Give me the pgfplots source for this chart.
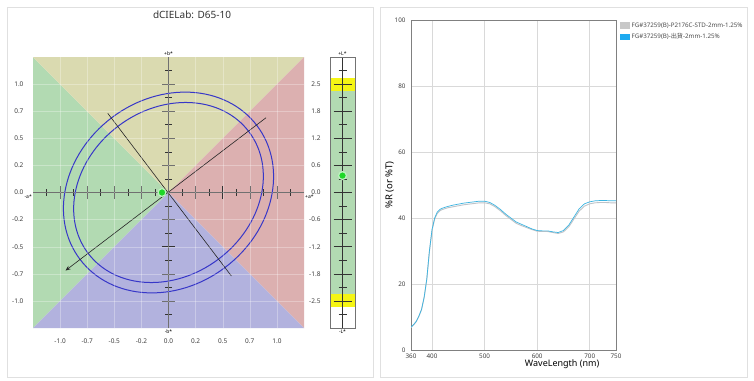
\documentclass[border=0pt]{standalone}
\usepackage{pgfplots}
\pgfplotsset{compat=1.18}
\usetikzlibrary{arrows.meta}
\usepackage{fontspec}
\setmainfont{Noto Sans}
\newfontfamily\cjk{Noto Sans CJK TC}
\definecolor{tgreen}{RGB}{178,218,178}
\definecolor{tyellow}{RGB}{218,218,176}
\definecolor{tred}{RGB}{220,176,176}
\definecolor{tblue}{RGB}{178,178,222}
\definecolor{ecol}{RGB}{55,55,200}
\definecolor{dotg}{RGB}{30,215,40}
\definecolor{lyel}{RGB}{245,245,20}
\definecolor{sblue}{RGB}{60,180,225}
\definecolor{sgray}{RGB}{190,195,200}
\definecolor{lgblue}{RGB}{30,170,240}
\definecolor{lggray}{RGB}{200,200,200}
\begin{document}
\begin{tikzpicture}
\path[use as bounding box, fill=white] (0,0) rectangle (754pt,-380pt);
\draw[black!12] (7pt,-7pt) rectangle (373pt,-377pt);
\draw[black!12] (380pt,-7pt) rectangle (747pt,-377pt);
\node[font=\fontsize{10}{12}\selectfont, text=black!80] at (192pt,-15pt) {dCIELab: D65-10};

% ---------- a*b* plane ----------
\begin{axis}[at={(33pt,-57pt)}, anchor=north west, scale only axis,
  width=271pt, height=271pt,
  xmin=-1.25, xmax=1.25, ymin=-1.25, ymax=1.25,
  axis line style={draw=none}, major tick length=0pt,
  xtick={-1,-0.75,-0.5,-0.25,0,0.25,0.5,0.75,1},
  ytick={-1,-0.75,-0.5,-0.25,0,0.25,0.5,0.75,1},
  xticklabels={-1.0,-0.7,-0.5,-0.2,\textbf{0.0},0.2,0.5,0.7,1.0},
  yticklabels={-1.0,-0.7,-0.5,-0.2,\textbf{0.0},0.2,0.5,0.7,1.0},
  ticklabel style={font=\fontsize{6.5}{7}\selectfont, text=black!75},
  xticklabel style={yshift=-7pt}, yticklabel style={xshift=-6pt},
  grid=major, major grid style={white, opacity=0.3, line width=0.4pt},
  axis on top, clip=false]
\addplot[fill=tgreen, draw=none] coordinates {(0,0) (-1.25,1.25) (-1.25,-1.25)} -- cycle;
\addplot[fill=tyellow, draw=none] coordinates {(0,0) (-1.25,1.25) (1.25,1.25)} -- cycle;
\addplot[fill=tred, draw=none] coordinates {(0,0) (1.25,1.25) (1.25,-1.25)} -- cycle;
\addplot[fill=tblue, draw=none] coordinates {(0,0) (1.25,-1.25) (-1.25,-1.25)} -- cycle;
\draw[black!80, line width=0.6pt] (axis cs:-1.25,0) -- (axis cs:1.25,0);
\draw[black!80, line width=0.6pt] (axis cs:0,-1.25) -- (axis cs:0,1.25);
\pgfplotsinvokeforeach{-1,-0.75,-0.5,-0.25,0.25,0.5,0.75,1}{
  \draw[black!80, line width=0.6pt] (axis cs:#1,-0.06) -- (axis cs:#1,0.06);
  \draw[black!80, line width=0.6pt] (axis cs:-0.06,#1) -- (axis cs:0.06,#1);
}
\pgfplotsinvokeforeach{-1.125,-0.875,-0.625,-0.375,-0.125,0.125,0.375,0.625,0.875,1.125}{
  \draw[black!80, line width=0.6pt] (axis cs:#1,-0.032) -- (axis cs:#1,0.032);
  \draw[black!80, line width=0.6pt] (axis cs:-0.032,#1) -- (axis cs:0.032,#1);
}
\draw[ecol, line width=1pt, rotate around={37:(axis cs:0,0)}] (axis cs:0,0) ellipse [x radius=110.9pt, y radius=93.9pt];
\draw[ecol, line width=1pt, rotate around={37:(axis cs:0,0)}] (axis cs:0,0) ellipse [x radius=100.8pt, y radius=83.3pt];
\addplot[black!85, line width=0.6pt] coordinates {(-0.56,0.73) (0.58,-0.77)};
\addplot[black!85, line width=0.6pt, -{Stealth[length=5pt,width=4pt]}] coordinates {(0.9,0.69) (-0.95,-0.72)};
\addplot[only marks, mark=*, mark size=3.9pt, mark options={fill=dotg, draw=dotg!30!white, line width=1.2pt}] coordinates {(-0.06,0)};
\node[font=\fontsize{5}{6}\selectfont, anchor=south, inner sep=1pt] at (axis cs:0,1.25) {+b*};
\node[font=\fontsize{5}{6}\selectfont, anchor=north, inner sep=1.5pt] at (axis cs:0,-1.25) {-b*};
\node[font=\fontsize{5}{6}\selectfont, anchor=east, inner sep=1pt] at (axis cs:-1.25,-0.04) {-a*};
\node[font=\fontsize{5}{6}\selectfont, anchor=west, inner sep=1pt] at (axis cs:1.25,-0.04) {+a*};
\end{axis}

% ---------- L* bar ----------
\begin{axis}[at={(330pt,-57pt)}, anchor=north west, scale only axis,
  width=25pt, height=271pt,
  xmin=0, xmax=1, ymin=-3.125, ymax=3.125,
  xtick=\empty, major tick length=0pt,
  ytick={-2.5,-1.875,-1.25,-0.625,0,0.625,1.25,1.875,2.5},
  yticklabels={-2.5,-1.8,-1.2,-0.6,\textbf{0.0},0.6,1.2,1.8,2.5},
  ticklabel style={font=\fontsize{6.5}{7}\selectfont, text=black!75},
  yticklabel style={xshift=-6pt},
  axis line style={draw=black!55, line width=0.6pt},
  axis on top, clip=false]
\addplot[fill=tgreen, draw=none] coordinates {(0,-2.35) (1,-2.35) (1,2.35) (0,2.35)} -- cycle;
\addplot[fill=lyel, draw=none] coordinates {(0,2.35) (1,2.35) (1,2.63) (0,2.63)} -- cycle;
\addplot[fill=lyel, draw=none] coordinates {(0,-2.63) (1,-2.63) (1,-2.35) (0,-2.35)} -- cycle;
\draw[black!80, line width=0.6pt] (axis cs:0.5,-3.125) -- (axis cs:0.5,3.125);
\pgfplotsinvokeforeach{-2.5,-1.875,-1.25,-0.625,0,0.625,1.25,1.875,2.5}{
  \draw[black!80, line width=0.6pt] (axis cs:0.14,#1) -- (axis cs:0.86,#1);
}
\pgfplotsinvokeforeach{-2.8125,-2.1875,-1.5625,-0.9375,-0.3125,0.3125,0.9375,1.5625,2.1875,2.8125}{
  \draw[black!80, line width=0.6pt] (axis cs:0.34,#1) -- (axis cs:0.66,#1);
}
\addplot[only marks, mark=*, mark size=3.9pt, mark options={fill=dotg, draw=dotg!30!white, line width=1.2pt}] coordinates {(0.5,0.39)};
\node[font=\fontsize{5}{6}\selectfont, anchor=south, inner sep=1pt] at (axis cs:0.5,3.125) {+L*};
\node[font=\fontsize{5}{6}\selectfont, anchor=north, inner sep=1.5pt] at (axis cs:0.5,-3.125) {-L*};
\end{axis}

% ---------- spectrum ----------
\begin{axis}[at={(411pt,-20pt)}, anchor=north west, scale only axis,
  width=205pt, height=330pt,
  xmin=360, xmax=750, ymin=0, ymax=100,
  xtick={360,400,500,600,700,750}, ytick={0,20,40,60,80,100},
  /pgf/number format/assume math mode=true,
  /pgf/number format/1000 sep={},
  ticklabel style={font=\fontsize{6.3}{7}\selectfont, text=black!75},
  yticklabel style={xshift=-2pt},
  major tick length=0pt,
  grid=major, major grid style={black!15, line width=0.5pt},
  axis line style={draw=black!50, line width=0.6pt},
  xlabel={WaveLength (nm)}, ylabel={\%R (or \%T)},
  xlabel style={font=\fontsize{9}{10}\selectfont, at={(axis description cs:0.737,0)}, anchor=north, yshift=-6pt},
  ylabel style={font=\fontsize{9.5}{10}\selectfont, yshift=-6pt},
  legend style={at={(1.012,1.002)}, anchor=north west, draw=none, fill=none,
    font=\fontsize{6.2}{7}\selectfont, text=black!70, row sep=1pt, inner sep=1pt},
  legend cell align=left]
\addplot[sgray, line width=0.9pt, legend image code/.code={\fill[lggray] (0pt,-2.6pt) rectangle (9pt,2.6pt);}] coordinates {
(360,6.8) (365,7.6) (370,8.6) (375,10.2) (380,12.2) (385,15.9) (390,21.3) (395,29.8) (400,36.2) (405,39.7) (410,41.4) (415,42.2) (420,42.6) (430,43.1) (440,43.4) (450,43.7) (460,44.0) (470,44.2) (480,44.4) (490,44.6) (500,44.6) (510,44.3) (520,43.4) (530,42.2) (540,40.8) (550,39.6) (560,38.4) (570,37.7) (580,37.1) (590,36.5) (600,36.0) (610,35.9) (620,35.9) (630,35.6) (640,35.3) (650,35.8) (660,37.3) (670,39.7) (680,42.1) (690,43.6) (700,44.3) (710,44.6) (720,44.7) (730,44.7) (740,44.6) (750,44.6)};
\addlegendentry{FG\#37259(B)-P2176C-STD-2mm-1.25\%}
\addplot[sblue, line width=0.7pt, legend image code/.code={\fill[lgblue] (0pt,-2.6pt) rectangle (9pt,2.6pt);}] coordinates {
(360,6.9) (365,7.7) (370,8.7) (375,10.3) (380,12.3) (385,16.0) (390,21.5) (395,30.0) (400,36.5) (405,40.0) (410,41.8) (415,42.6) (420,43.0) (430,43.5) (440,43.9) (450,44.2) (460,44.5) (470,44.7) (480,44.9) (490,45.1) (500,45.1) (510,44.7) (520,43.8) (530,42.6) (540,41.2) (550,40.0) (560,38.8) (570,38.1) (580,37.4) (590,36.7) (600,36.2) (610,36.1) (620,36.1) (630,35.8) (640,35.6) (650,36.2) (660,37.8) (670,40.3) (680,42.8) (690,44.3) (700,44.9) (710,45.2) (720,45.3) (730,45.3) (740,45.2) (750,45.2)};
\addlegendentry{FG\#37259(B)-{\cjk 出貨}-2mm-1.25\%}
\end{axis}
\end{tikzpicture}
\end{document}
